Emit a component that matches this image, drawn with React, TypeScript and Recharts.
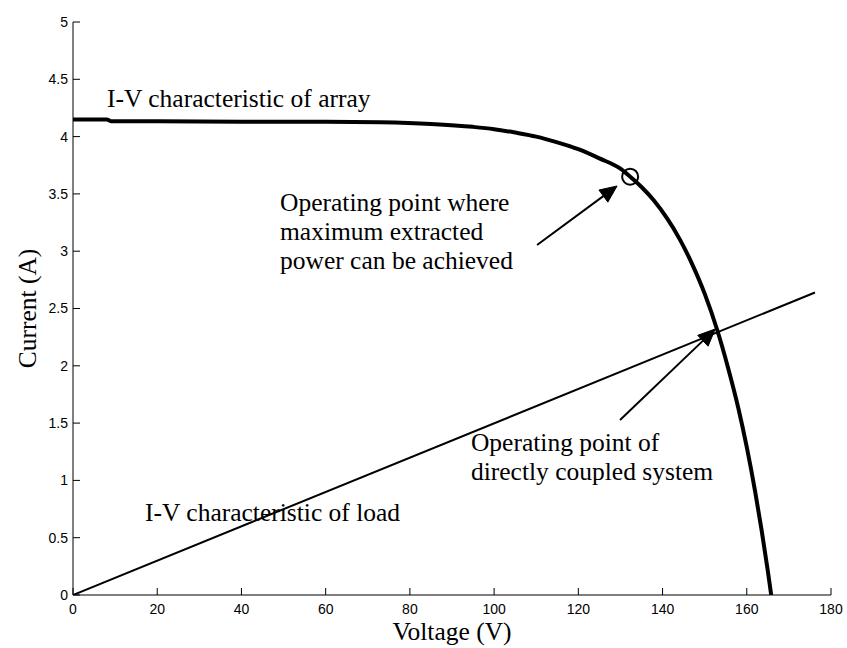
import React from 'react';
import { ComposedChart, Line, XAxis, YAxis, ReferenceDot, ReferenceLine } from 'recharts';

// I-V characteristic of the PV array
const arrayVoltage = [0, 8, 9, 20, 40, 60, 73, 85, 95, 100, 105, 110, 115, 120, 125, 130, 132.3, 135, 138, 141, 144, 147, 150, 153, 155.5, 158, 160, 162, 163.5, 165, 165.8];
const arrayCurrent = [4.15, 4.15, 4.135, 4.135, 4.13, 4.13, 4.125, 4.11, 4.085, 4.065, 4.035, 4.0, 3.95, 3.89, 3.81, 3.72, 3.65, 3.56, 3.44, 3.29, 3.11, 2.89, 2.63, 2.31, 1.99, 1.63, 1.29, 0.9, 0.57, 0.21, 0];

// I-V characteristic of the resistive load
const loadVoltage = [0, 176.2];
const loadCurrent = [0, 2.64];

// Maximum power point
const mppVoltage = 132.3;
const mppCurrent = 3.65;

// Arrows [tailV, tailI, tipV, tipI]
const arrowMpp = [110.2, 3.054, 129.2, 3.569];
const arrowDirect = [129.9, 1.527, 152.5, 2.321];

const xTicks = [0, 20, 40, 60, 80, 100, 120, 140, 160, 180];
const yTicks = [0, 0.5, 1, 1.5, 2, 2.5, 3, 3.5, 4, 4.5, 5];

const labelArray = ['I-V characteristic of array'];
const labelMpp = ['Operating point where', 'maximum extracted', 'power can be achieved'];
const labelDirect = ['Operating point of', 'directly coupled system'];
const labelLoad = ['I-V characteristic of load'];

const arrayData = arrayVoltage.map((v, k) => ({ v, i: arrayCurrent[k] }));
const loadData = loadVoltage.map((v, k) => ({ v, i: loadCurrent[k] }));

const SERIF = "'Liberation Serif', 'Times New Roman', serif";
const SANS = "'Liberation Sans', Arial, sans-serif";
const TEXT_SIZE = 25.5;

const textShape = (lines: string[], lh = 29) => (p: any) => (
  <text x={p.cx} y={p.cy} fontFamily={SERIF} fontSize={TEXT_SIZE} fill="#000">
    {lines.map((l, k) => (
      <tspan key={k} x={p.cx} dy={k === 0 ? 0 : lh}>
        {l}
      </tspan>
    ))}
  </text>
);

const ArrowShape = (p: any) => {
  const { x1, y1, x2, y2 } = p;
  const dx = x2 - x1;
  const dy = y2 - y1;
  const len = Math.hypot(dx, dy) || 1;
  const ux = dx / len;
  const uy = dy / len;
  const hl = 17;
  const hw = 7.5;
  const bx = x2 - ux * hl;
  const by = y2 - uy * hl;
  const pts = `${x2},${y2} ${bx - uy * hw},${by + ux * hw} ${bx + uy * hw},${by - ux * hw}`;
  return (
    <g>
      <line x1={x1} y1={y1} x2={bx + ux * 2} y2={by + uy * 2} stroke="#000" strokeWidth={2} />
      <polygon points={pts} fill="#000" stroke="#000" strokeWidth={1} strokeLinejoin="miter" />
    </g>
  );
};

export default function App() {
  return (
    <div style={{ position: 'absolute', left: 0, top: 0, background: '#fff' }}>
      <ComposedChart width={847} height={648} margin={{ top: 22, right: 16, bottom: 0, left: 0 }}>
        <XAxis
          type="number"
          dataKey="v"
          domain={[0, 180]}
          ticks={xTicks}
          interval={0}
          allowDataOverflow
          height={53}
          stroke="#000"
          axisLine={{ stroke: '#000', strokeWidth: 1 }}
          tickLine={{ stroke: '#000', strokeWidth: 1 }}
          tickSize={-7}
          tickMargin={16}
          tick={{ fontSize: 14, fontFamily: SANS, fill: '#000' }}
          label={{
            content: (props: any) => {
              const vb = props.viewBox || { x: 73, y: 595, width: 758 };
              return (
                <text x={vb.x + vb.width / 2} y={vb.y + 45} textAnchor="middle" fontFamily={SERIF} fontSize={TEXT_SIZE} fill="#000">
                  Voltage (V)
                </text>
              );
            },
          }}
        />
        <YAxis
          type="number"
          domain={[0, 5]}
          ticks={yTicks}
          interval={0}
          allowDataOverflow
          width={73}
          stroke="#000"
          axisLine={{ stroke: '#000', strokeWidth: 1 }}
          tickLine={{ stroke: '#000', strokeWidth: 1 }}
          tickSize={-7}
          tickMargin={12}
          tick={{ fontSize: 14, fontFamily: SANS, fill: '#000' }}
          label={{
            content: (props: any) => {
              const vb = props.viewBox || { x: 0, y: 22, width: 73, height: 573 };
              const cx = vb.x + 36;
              const cy = vb.y + vb.height / 2;
              return (
                <text x={cx} y={cy} transform={`rotate(-90 ${cx} ${cy})`} textAnchor="middle" fontFamily={SERIF} fontSize={TEXT_SIZE} fill="#000">
                  Current (A)
                </text>
              );
            },
          }}
        />
        <Line
          data={loadData}
          dataKey="i"
          type="linear"
          stroke="#000"
          strokeWidth={2}
          dot={false}
          activeDot={false}
          isAnimationActive={false}
        />
        <Line
          data={arrayData}
          dataKey="i"
          type="monotone"
          stroke="#000"
          strokeWidth={4}
          dot={false}
          activeDot={false}
          isAnimationActive={false}
        />
        <ReferenceDot x={mppVoltage} y={mppCurrent} r={8} fill="none" stroke="#000" strokeWidth={2} ifOverflow="visible" />
        <ReferenceLine
          segment={[{ x: arrowMpp[0], y: arrowMpp[1] }, { x: arrowMpp[2], y: arrowMpp[3] }]}
          shape={ArrowShape}
          ifOverflow="visible"
        />
        <ReferenceLine
          segment={[{ x: arrowDirect[0], y: arrowDirect[1] }, { x: arrowDirect[2], y: arrowDirect[3] }]}
          shape={ArrowShape}
          ifOverflow="visible"
        />
        <ReferenceDot x={8.07} y={4.258} r={1} shape={textShape(labelArray)} ifOverflow="visible" />
        <ReferenceDot x={49.16} y={3.351} r={1} shape={textShape(labelMpp)} ifOverflow="visible" />
        <ReferenceDot x={94.5} y={1.257} r={1} shape={textShape(labelDirect)} ifOverflow="visible" />
        <ReferenceDot x={17.1} y={0.65} r={1} shape={textShape(labelLoad)} ifOverflow="visible" />
      </ComposedChart>
    </div>
  );
}
